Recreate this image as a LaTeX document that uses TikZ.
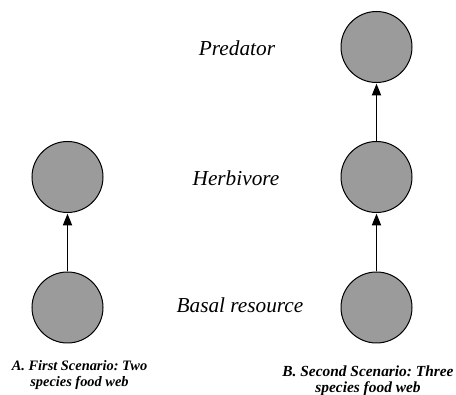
\documentclass[tikz,border=0pt]{standalone}
\usepackage{fontspec}
\setmainfont{Liberation Serif}
\usetikzlibrary{arrows.meta}
\definecolor{nodegray}{RGB}{155,155,155}
\frenchspacing
\begin{document}
\begin{tikzpicture}[x=1pt,y=-1pt,
  species/.style={circle,draw=black,line width=1pt,fill=nodegray,minimum size=71pt,inner sep=0pt},
  level/.style={font=\fontsize{21.3}{24}\selectfont\itshape,inner sep=0pt},
  caption/.style={align=center,inner sep=0pt},
  feed/.style={-{Triangle[length=12pt,width=9pt]},line width=1.8pt,shorten >=0.5pt}]
\useasboundingbox (0,0) rectangle (456,395);
% Scenario A
\node[species] (a1) at (67.5,307.5) {};
\node[species] (a2) at (67.5,177) {};
\draw[feed] (a1) -- (a2);
% Scenario B
\node[species] (b1) at (376.5,307.5) {};
\node[species] (b2) at (376.5,177) {};
\node[species] (b3) at (376.5,47) {};
\draw[feed] (b1) -- (b2);
\draw[feed] (b2) -- (b3);
% level labels
\node[level] (lp) at (237,48) {Predator};
\node[level] (lh) at (236,178) {Herbivore};
\node[level] (lb) at (240,305) {Basal resource};
% captions
\node[caption,font=\fontsize{14.4}{15.3}\selectfont\bfseries\itshape\frenchspacing] (ca) at (79.5,375) {A. First Scenario: Two\\species food web};
\node[caption,font=\fontsize{15.4}{15.5}\selectfont\bfseries\itshape\frenchspacing] (cb) at (368,381) {B. Second Scenario: Three\\species food web};
\end{tikzpicture}
\end{document}
